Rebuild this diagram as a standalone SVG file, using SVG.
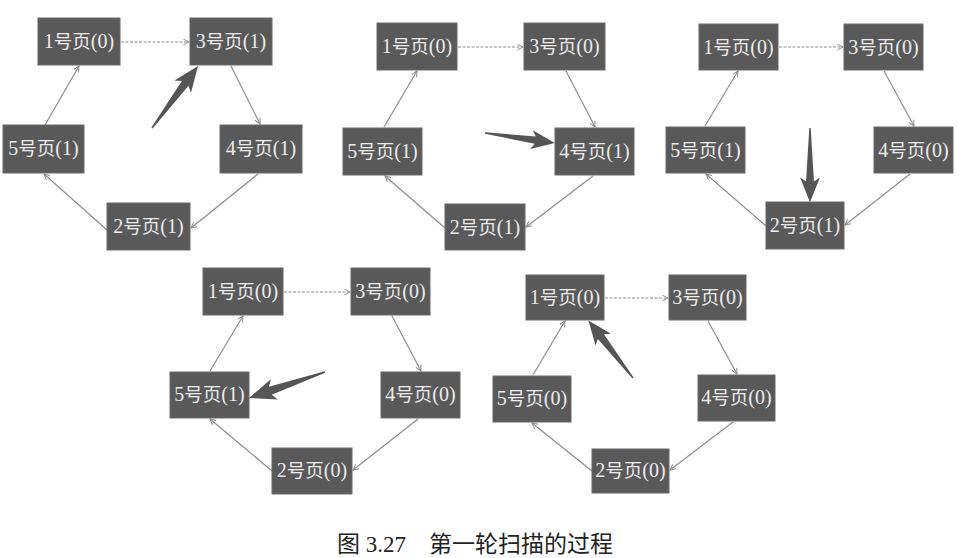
<svg xmlns="http://www.w3.org/2000/svg" xmlns:xlink="http://www.w3.org/1999/xlink" width="959" height="558" viewBox="0 0 959 558">
<style>
.node rect{fill:#595959;stroke:#6a6a6a;stroke-width:1}
.node text{fill:#ececec;font-family:'Liberation Serif','Noto Sans CJK SC',serif;font-size:20px;text-anchor:middle}
.c{font-family:'Noto Sans CJK SC',sans-serif;font-size:18.5px}
.conn line{stroke:#8c8c8c;stroke-width:1.2;fill:none;marker-end:url(#ah)}
.conn line.d{stroke-dasharray:3 1.5}
.big use{fill:#555}
.cap{fill:#222;font-family:'Liberation Serif','Noto Sans CJK SC',serif;font-size:23px}
</style>
<defs>
<marker id="ah" viewBox="0 0 10 10" refX="9" refY="5" markerWidth="7" markerHeight="7" markerUnits="userSpaceOnUse" orient="auto">
<path d="M1,1 L9,5 L1,9" fill="none" stroke="#8c8c8c" stroke-width="1.4"/>
</marker>
<path id="bigArrow" d="M0,-0.7 L54,-4 L50,-10 L75,0 L50,10 L54,4 L0,0.7 Z"/>
</defs>
<rect width="959" height="558" fill="#ffffff"/>

<g id="connectors" class="conn">
<line class="d" x1="121" y1="42" x2="189" y2="42"/>
<line x1="231" y1="66" x2="260" y2="124"/>
<line x1="258" y1="174" x2="191" y2="228"/>
<line x1="107" y1="230" x2="44" y2="174"/>
<line x1="45" y1="125" x2="79" y2="66"/>

<line class="d" x1="458" y1="47" x2="523" y2="47"/>
<line x1="566" y1="71" x2="595" y2="127"/>
<line x1="593" y1="176" x2="526" y2="227"/>
<line x1="445" y1="228" x2="385" y2="176"/>
<line x1="384" y1="127" x2="417" y2="71"/>

<line class="d" x1="779" y1="47" x2="843" y2="47"/>
<line x1="884" y1="71" x2="914" y2="126"/>
<line x1="910" y1="174" x2="845" y2="225"/>
<line x1="766" y1="226" x2="706" y2="174"/>
<line x1="705" y1="126" x2="738" y2="71"/>

<line class="d" x1="284" y1="292" x2="350" y2="292"/>
<line x1="392" y1="316" x2="421" y2="371"/>
<line x1="418" y1="419" x2="353" y2="470"/>
<line x1="272" y1="471" x2="210" y2="419"/>
<line x1="210" y1="371" x2="243" y2="316"/>

<line class="d" x1="605" y1="298" x2="668" y2="298"/>
<line x1="708" y1="321" x2="737" y2="374"/>
<line x1="733" y1="422" x2="670" y2="470"/>
<line x1="592" y1="471" x2="532" y2="423"/>
<line x1="533" y1="375" x2="565" y2="321"/>
</g>

<!-- Diagram 1 -->
<g id="d1n1" class="node"><rect x="38" y="18" width="82" height="47"/><text x="79" y="48">1<tspan class="c">号页</tspan>(0)</text></g>
<g id="d1n3" class="node"><rect x="190" y="18" width="82" height="47"/><text x="231" y="48">3<tspan class="c">号页</tspan>(1)</text></g>
<g id="d1n5" class="node"><rect x="3" y="125" width="81" height="48"/><text x="43.5" y="155">5<tspan class="c">号页</tspan>(1)</text></g>
<g id="d1n4" class="node"><rect x="220" y="125" width="82" height="48"/><text x="261" y="155">4<tspan class="c">号页</tspan>(1)</text></g>
<g id="d1n2" class="node"><rect x="107" y="203" width="83" height="47"/><text x="148.5" y="233">2<tspan class="c">号页</tspan>(1)</text></g>

<!-- Diagram 2 -->
<g id="d2n1" class="node"><rect x="377" y="23" width="80" height="47"/><text x="417" y="53">1<tspan class="c">号页</tspan>(0)</text></g>
<g id="d2n3" class="node"><rect x="524" y="23" width="81" height="47"/><text x="564.5" y="53">3<tspan class="c">号页</tspan>(0)</text></g>
<g id="d2n5" class="node"><rect x="343" y="128" width="79" height="47"/><text x="382.5" y="158">5<tspan class="c">号页</tspan>(1)</text></g>
<g id="d2n4" class="node"><rect x="555" y="128" width="79" height="47"/><text x="594.5" y="158">4<tspan class="c">号页</tspan>(1)</text></g>
<g id="d2n2" class="node"><rect x="445" y="204" width="80" height="46"/><text x="485" y="234">2<tspan class="c">号页</tspan>(1)</text></g>

<!-- Diagram 3 -->
<g id="d3n1" class="node"><rect x="699" y="24" width="79" height="46"/><text x="738.5" y="54">1<tspan class="c">号页</tspan>(0)</text></g>
<g id="d3n3" class="node"><rect x="844" y="24" width="79" height="46"/><text x="883.5" y="54">3<tspan class="c">号页</tspan>(0)</text></g>
<g id="d3n5" class="node"><rect x="666" y="127" width="79" height="46"/><text x="705.5" y="157">5<tspan class="c">号页</tspan>(1)</text></g>
<g id="d3n4" class="node"><rect x="874" y="127" width="79" height="46"/><text x="913.5" y="157">4<tspan class="c">号页</tspan>(0)</text></g>
<g id="d3n2" class="node"><rect x="766" y="202" width="78" height="47"/><text x="805" y="232">2<tspan class="c">号页</tspan>(1)</text></g>

<!-- Diagram 4 -->
<g id="d4n1" class="node"><rect x="203" y="268" width="80" height="47"/><text x="243" y="298">1<tspan class="c">号页</tspan>(0)</text></g>
<g id="d4n3" class="node"><rect x="351" y="268" width="79" height="47"/><text x="390.5" y="298">3<tspan class="c">号页</tspan>(0)</text></g>
<g id="d4n5" class="node"><rect x="170" y="372" width="79" height="46"/><text x="209.5" y="401">5<tspan class="c">号页</tspan>(1)</text></g>
<g id="d4n4" class="node"><rect x="381" y="372" width="79" height="46"/><text x="420.5" y="401">4<tspan class="c">号页</tspan>(0)</text></g>
<g id="d4n2" class="node"><rect x="272" y="448" width="80" height="46"/><text x="312" y="477">2<tspan class="c">号页</tspan>(0)</text></g>

<!-- Diagram 5 -->
<g id="d5n1" class="node"><rect x="526" y="275" width="78" height="45"/><text x="565" y="304">1<tspan class="c">号页</tspan>(0)</text></g>
<g id="d5n3" class="node"><rect x="669" y="275" width="77" height="45"/><text x="707.5" y="304">3<tspan class="c">号页</tspan>(0)</text></g>
<g id="d5n5" class="node"><rect x="493" y="376" width="78" height="46"/><text x="532" y="405">5<tspan class="c">号页</tspan>(0)</text></g>
<g id="d5n4" class="node"><rect x="698" y="375" width="77" height="46"/><text x="736.5" y="404">4<tspan class="c">号页</tspan>(0)</text></g>
<g id="d5n2" class="node"><rect x="592" y="449" width="77" height="44"/><text x="630.5" y="477">2<tspan class="c">号页</tspan>(0)</text></g>

<!-- scan pointers -->
<g id="pointers" class="big">
<use xlink:href="#bigArrow" transform="translate(152,128) rotate(-53.4) scale(1.03)"/>
<use xlink:href="#bigArrow" transform="translate(485,133) rotate(8.1) scale(0.94)"/>
<use xlink:href="#bigArrow" transform="translate(810,128) rotate(90) scale(0.99)"/>
<use xlink:href="#bigArrow" transform="translate(325,372) rotate(161.1) scale(1.07)"/>
<use xlink:href="#bigArrow" transform="translate(633,378) rotate(-127.8) scale(0.97)"/>
</g>

<text class="cap" x="337" y="552">图 3.27</text>
<text class="cap" x="429" y="552">第一轮扫描的过程</text>
</svg>
